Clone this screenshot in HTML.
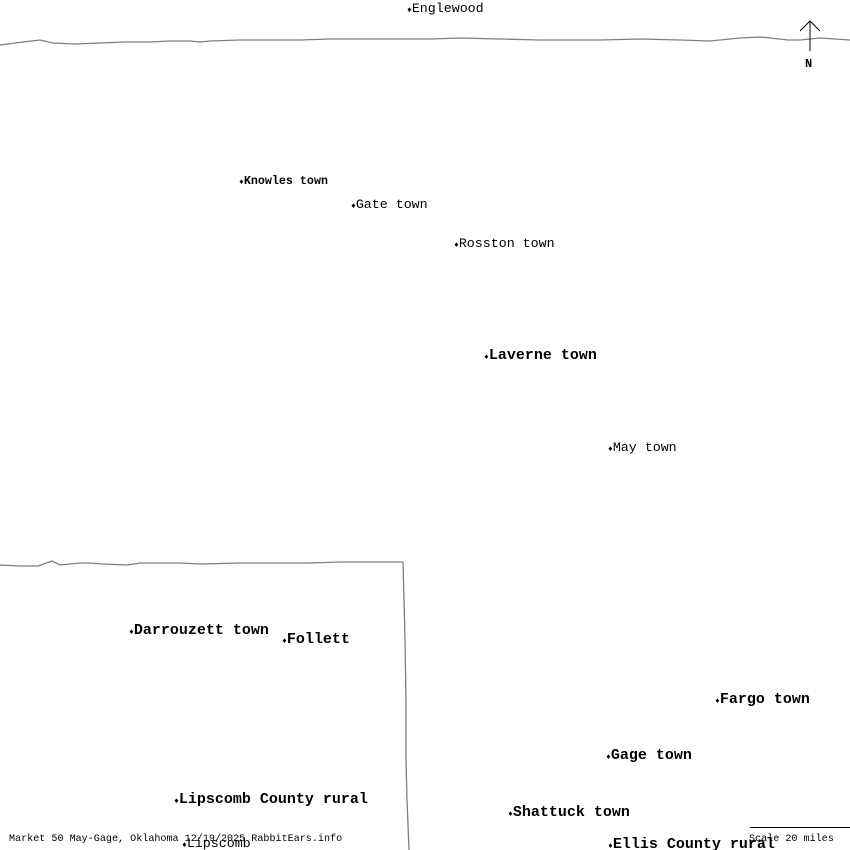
<!DOCTYPE html>
<html><head><meta charset="utf-8"><style>
html,body{margin:0;padding:0;background:#fff}
svg{display:block}
text{font-family:"Liberation Mono","DejaVu Sans Mono",monospace;fill:#000}
.n{font-size:13.3px}
.b{font-size:15px;font-weight:bold}
.k{font-size:11.7px;font-weight:bold}
.f{font-size:10.1px}
.d{font-size:8px}
</style></head><body>
<svg width="850" height="850" viewBox="0 0 850 850" xmlns="http://www.w3.org/2000/svg">
<g fill="none" stroke="#808080" stroke-width="1.3">
<polyline points="0,45 23,42 40,40 53,43 75,44 100,43 125,42 150,42 170,41 190,41 200,42 210,41 240,40 260,40 300,40 330,39 360,39 390,39 430,39 460,38 500,39 540,40 580,40 600,40 640,39 680,40 710,41 740,38 760,37 770,38 788,40 800,40 820,38 835,39 850,40"/>
<polyline points="0,565 20,566 38,566 52,561 60,565 80,563 90,563 102,564 128,565 140,563 150,563 180,563 200,564 240,563 280,563 310,563 340,562 370,562 403,562 404,600 405,640 406,700 406,760 407,800 409,850"/>
</g>
<g stroke="#000" stroke-width="1" fill="none">
<line x1="810" y1="21" x2="810" y2="51"/>
<polyline points="800,31 810,21 820,31"/>
</g>
<text x="805" y="67" class="k" style="font-size:12px">N</text>
<line x1="750" y1="827.5" x2="850" y2="827.5" stroke="#000" stroke-width="1"/>
<text x="407" y="12" class="n"><tspan class="d">&#x2666;</tspan>Englewood</text>
<text x="239" y="184" class="k"><tspan class="d">&#x2666;</tspan>Knowles town</text>
<text x="351" y="208" class="n"><tspan class="d">&#x2666;</tspan>Gate town</text>
<text x="454" y="247" class="n"><tspan class="d">&#x2666;</tspan>Rosston town</text>
<text x="484" y="359" class="b"><tspan class="d">&#x2666;</tspan>Laverne town</text>
<text x="608" y="451" class="n"><tspan class="d">&#x2666;</tspan>May town</text>
<text x="129" y="634" class="b"><tspan class="d">&#x2666;</tspan>Darrouzett town</text>
<text x="282" y="643" class="b"><tspan class="d">&#x2666;</tspan>Follett</text>
<text x="715" y="703" class="b"><tspan class="d">&#x2666;</tspan>Fargo town</text>
<text x="606" y="759" class="b"><tspan class="d">&#x2666;</tspan>Gage town</text>
<text x="174" y="803" class="b"><tspan class="d">&#x2666;</tspan>Lipscomb County rural</text>
<text x="508" y="816" class="b"><tspan class="d">&#x2666;</tspan>Shattuck town</text>
<text x="182" y="847" class="n"><tspan class="d">&#x2666;</tspan>Lipscomb</text>
<text x="608" y="848" class="b"><tspan class="d">&#x2666;</tspan>Ellis County rural</text>
<text x="9" y="841" class="f">Market 50 May-Gage, Oklahoma 12/19/2025 RabbitEars.info</text>
<text x="749" y="841" class="f">Scale 20 miles</text>
</svg>
</body></html>
